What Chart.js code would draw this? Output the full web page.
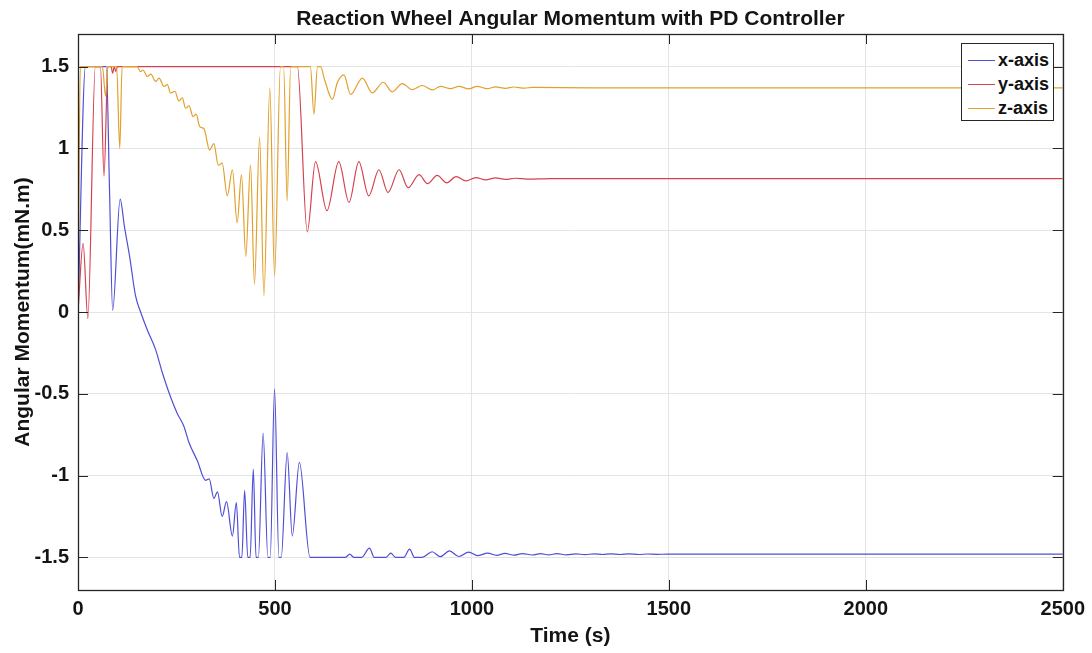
<!DOCTYPE html>
<html>
<head>
<meta charset="utf-8">
<script src="https://cdn.jsdelivr.net/npm/chart.js@4/dist/chart.umd.min.js"></script>
<style>
  body { margin: 0; background: #fff; }
  #wrap { position: relative; width: 1092px; height: 653px; }
  #legend {
    position: absolute; left: 961px; top: 43px; width: 93px; height: 78px;
    border: 1px solid #262626; background: #fff; box-sizing: border-box;
    font: bold 18px "Liberation Sans", Arial, sans-serif; color: #111;
    padding-top: 4px;
  }
  #legend .row { display: flex; align-items: center; height: 24px; }
  #legend .sw { width: 27px; height: 0; border-top: 1.5px solid; margin: 0 3px 0 6px; }
</style>
</head>
<body>
<div id="wrap">
  <canvas id="chart" width="1092" height="653"></canvas>
  <div id="legend"></div>
</div>
<script>
// ====== DATA ======
const xTime = [0, 19, 72, 80, 88, 107, 118, 131, 146, 159, 176, 197, 214, 235, 252, 269, 282, 303, 324, 333,
  345, 354, 366, 377, 392, 402, 410, 416, 423, 431, 437, 445, 452, 458, 470, 482, 488, 499, 510, 516,
  531, 544, 562, 589, 679, 690, 700, 720, 740, 752, 782, 794, 806, 827, 842, 854, 874, 899, 920, 943,
  967, 992, 1014, 1040, 1063, 1084, 1107, 1128, 1153, 1174, 1195, 1216, 1240, 1264, 1287, 1310, 1332,
  1352, 1377, 1398, 1424, 1445, 1470, 1496, 1600, 2500];
const xVals = [0, 1.5, 1.5, 0.75, 0.01, 0.69, 0.52, 0.34, 0.10, 0.0, -0.11, -0.23, -0.37, -0.52, -0.62, -0.70, -0.80, -0.91, -1.03, -1.02,
  -1.14, -1.10, -1.25, -1.16, -1.37, -1.165, -1.5, -1.5, -1.09, -1.5, -1.5, -0.96, -1.5, -1.5, -0.74, -1.5, -1.5, -0.47, -1.5, -1.5,
  -0.86, -1.37, -0.92, -1.5, -1.5, -1.481, -1.5, -1.5, -1.444, -1.5, -1.5, -1.475, -1.5, -1.5, -1.45, -1.5, -1.5, -1.466, -1.496, -1.461,
  -1.495, -1.468, -1.49, -1.475, -1.488, -1.476, -1.487, -1.477, -1.486, -1.478, -1.485, -1.478, -1.485, -1.479, -1.484, -1.479, -1.483,
  -1.479, -1.483, -1.479, -1.483, -1.48, -1.482, -1.481, -1.481, -1.481];

const yTime = [0, 13, 25, 44, 57, 66, 76, 84, 88, 92, 96, 100, 557, 582, 603, 632, 662, 688, 713, 738,
  764, 787, 815, 838, 866, 887, 912, 936, 960, 985, 1010, 1035, 1060, 1085, 1110, 1140, 1200, 2500];
const yVals = [0, 0.42, -0.04, 1.5, 1.5, 0.83, 1.5, 1.5, 1.46, 1.5, 1.47, 1.5, 1.5, 0.49, 0.92, 0.62, 0.92, 0.67, 0.92, 0.71,
  0.87, 0.73, 0.87, 0.76, 0.84, 0.785, 0.835, 0.79, 0.828, 0.802, 0.822, 0.808, 0.82, 0.811, 0.818, 0.813, 0.816, 0.816];

const zTime = [0, 6, 62, 70, 76, 98, 106, 112, 150, 159, 165, 176, 185, 197, 206, 218, 227, 235, 246, 256,
  265, 273, 282, 292, 300, 309, 320, 334, 345, 356, 366, 379, 392, 404, 415, 426, 438, 448, 461, 472,
  487, 499, 514, 522, 531, 540, 590, 599, 608, 616, 626, 646, 658, 675, 692, 722, 747, 775, 798, 823,
  849, 874, 900, 920, 946, 967, 992, 1013, 1039, 1060, 1085, 1107, 1133, 1154, 1300, 2500];
const zVals = [0, 1.5, 1.5, 1.32, 1.5, 1.5, 1.0, 1.5, 1.5, 1.47, 1.48, 1.44, 1.455, 1.41, 1.43, 1.379, 1.39, 1.338, 1.35, 1.291,
  1.31, 1.246, 1.26, 1.195, 1.21, 1.134, 1.12, 0.99, 1.03, 0.898, 0.91, 0.71, 0.87, 0.545, 0.84, 0.34, 0.9, 0.17, 1.07, 0.10,
  1.37, 0.22, 1.5, 1.5, 0.68, 1.5, 1.5, 1.21, 1.5, 1.5, 1.42, 1.30, 1.40, 1.45, 1.33, 1.43, 1.34, 1.405, 1.346, 1.397,
  1.36, 1.385, 1.358, 1.38, 1.366, 1.38, 1.364, 1.38, 1.366, 1.377, 1.368, 1.376, 1.369, 1.374, 1.371, 1.371];

const seriesNames = ["x-axis", "y-axis", "z-axis"];
const seriesColors = ["#4f4fd6", "#d6414f", "#e2a02c"];
const xTicks = [0, 500, 1000, 1500, 2000, 2500];
const yTicks = [-1.5, -1, -0.5, 0, 0.5, 1, 1.5];
const yTickLabels = ["-1.5", "-1", "-0.5", "0", "0.5", "1", "1.5"];
const chartTitle = 'Reaction Wheel Angular Momentum with PD Controller';

// ====== HELPERS ======
function toPoints(times, vals) {
  return times.map((t, i) => ({ x: t, y: vals[i] }));
}
const FONT = '"Liberation Sans", Arial, sans-serif';
const TEXT = '#141414';

// box around the axes + inward ticks + title centred on the axes (matlab style)
const boxPlugin = {
  id: 'box',
  afterDatasetsDraw(chart) {
    const { ctx, chartArea: a, scales } = chart;
    ctx.save();
    ctx.strokeStyle = '#262626';
    ctx.lineWidth = 1;
    ctx.beginPath();
    xTicks.forEach(v => {
      const px = Math.round(scales.x.getPixelForValue(v)) + 0.5;
      ctx.moveTo(px, a.bottom); ctx.lineTo(px, a.bottom - 10);
      ctx.moveTo(px, a.top); ctx.lineTo(px, a.top + 10);
    });
    yTicks.forEach(v => {
      const py = Math.round(scales.y.getPixelForValue(v)) + 0.5;
      ctx.moveTo(a.left, py); ctx.lineTo(a.left + 10, py);
      ctx.moveTo(a.right, py); ctx.lineTo(a.right - 10, py);
    });
    ctx.stroke();
    ctx.lineWidth = 1.3;
    ctx.strokeRect(Math.round(a.left) + 0.5, Math.round(a.top) + 0.5, Math.round(a.right - a.left), Math.round(a.bottom - a.top));
    // title
    ctx.fillStyle = TEXT;
    ctx.font = 'bold 21px ' + FONT;
    ctx.textAlign = 'center';
    ctx.textBaseline = 'middle';
    ctx.fillText(chartTitle, (a.left + a.right) / 2, 19);
    ctx.restore();
  }
};

// ====== CHART ======
const ctx = document.getElementById('chart').getContext('2d');
const chart = new Chart(ctx, {
  type: 'line',
  data: {
    datasets: [
      { label: seriesNames[0], data: toPoints(xTime, xVals), order: 2 },
      { label: seriesNames[1], data: toPoints(yTime, yVals), order: 1 },
      { label: seriesNames[2], data: toPoints(zTime, zVals), order: 0 }
    ].map((d, i) => Object.assign(d, {
      borderColor: seriesColors[i], backgroundColor: seriesColors[i],
      borderWidth: 1.2, pointRadius: 0, fill: false,
      cubicInterpolationMode: 'monotone'
    }))
  },
  options: {
    responsive: false,
    animation: false,
    layout: { padding: { left: 0, right: 29, top: 34, bottom: 0 } },
    plugins: {
      legend: { display: false },
      tooltip: { enabled: false },
      title: { display: false }
    },
    scales: {
      x: {
        type: 'linear', min: 0, max: 2500,
        afterFit: s => { s.height = 63; },
        afterBuildTicks: s => { s.ticks = xTicks.map(v => ({ value: v })); },
        grid: { color: '#e4e4e4', drawTicks: false },
        border: { display: false },
        ticks: { color: TEXT, padding: 7, maxRotation: 0, font: { family: FONT, size: 20, weight: 'bold' },
                 callback: v => String(v) },
        title: { display: true, text: 'Time (s)', color: TEXT,
                 font: { family: FONT, size: 21, weight: 'bold' }, padding: { top: 0, bottom: 4 } }
      },
      y: {
        min: -1.7, max: 1.7,
        afterFit: s => { s.width = 78; },
        afterBuildTicks: s => { s.ticks = yTicks.map(v => ({ value: v })); },
        grid: { color: '#e4e4e4', drawTicks: false },
        border: { display: false },
        ticks: { color: TEXT, padding: 9, font: { family: FONT, size: 20, weight: 'bold' },
                 callback: v => yTickLabels[yTicks.indexOf(v)] },
        title: { display: true, text: 'Angular Momentum(mN.m)', color: TEXT,
                 font: { family: FONT, size: 21, weight: 'bold' }, padding: { top: 11, bottom: 0 } }
      }
    }
  },
  plugins: [boxPlugin]
});

// ====== LEGEND ======
document.getElementById('legend').innerHTML = seriesNames.map((n, i) =>
  `<div class="row"><span class="sw" style="border-color:${seriesColors[i]}"></span>${n}</div>`
).join('');
</script>
</body>
</html>
